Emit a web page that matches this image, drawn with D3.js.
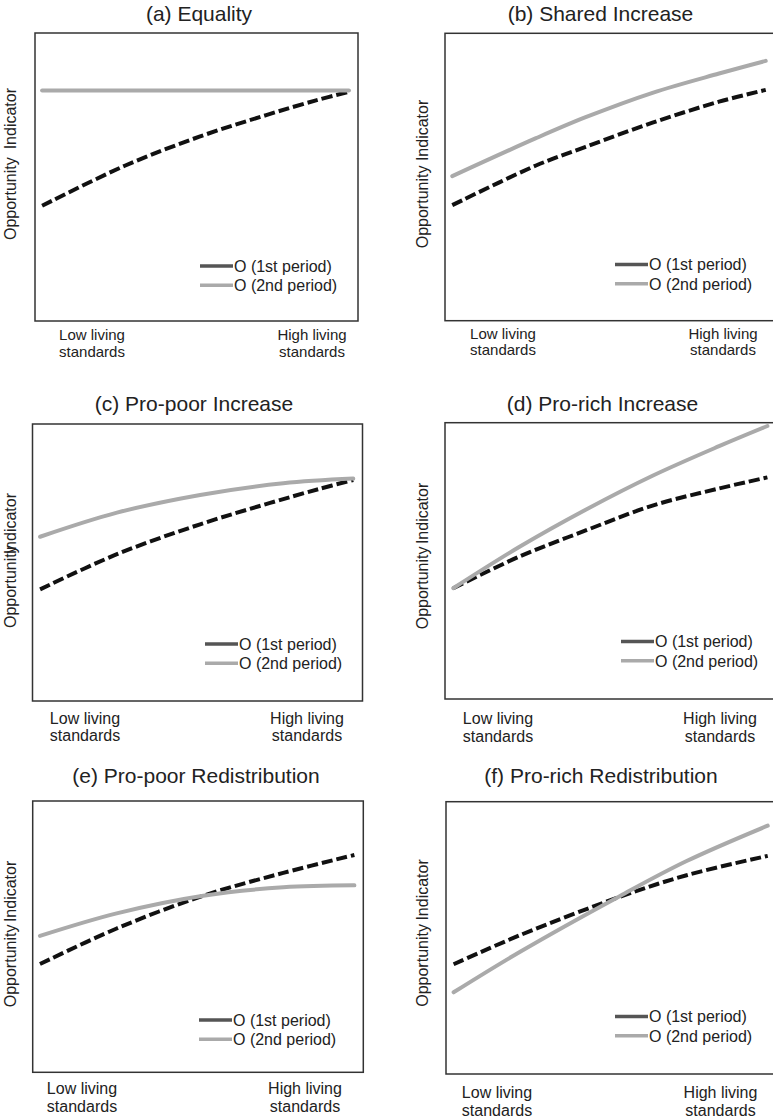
<!DOCTYPE html>
<html>
<head>
<meta charset="utf-8">
<script src="https://cdn.jsdelivr.net/npm/d3@7"></script>
<style>
  html, body { margin: 0; padding: 0; background: #fff; }
  svg { display: block; }
  text { font-family: "Liberation Sans", Arial, sans-serif; fill: #222; }
</style>
</head>
<body>
<svg id="chart" width="773" height="1120"></svg>
<script>
// ---------------- data ----------------
const panelTitles = ["(a) Equality", "(b) Shared Increase", "(c) Pro-poor Increase",
                     "(d) Pro-rich Increase", "(e) Pro-poor Redistribution", "(f) Pro-rich Redistribution"];
const yLabelParts = ["Opportunity", " Indicator"];
const xLabelLow = ["Low living", "standards"];
const xLabelHigh = ["High living", "standards"];
const legendLabels = ["O (1st period)", "O (2nd period)"];

// x: position along living standards (0-100), y: opportunity indicator (0-100)
const aX1 = [2.2, 27.8, 50.9, 71.6, 87, 97.2];
const aY1 = [40, 53.9, 64, 71.5, 76.6, 79.6];
const aX2 = [2.2, 97.2];
const aY2 = [80, 80];

const bX1 = [2.2, 27.5, 42.5, 62.7, 82.8, 96.9];
const bY1 = [40.2, 54, 60.5, 68.9, 76.2, 80.3];
const bX2 = [2.2, 27.5, 42.5, 62.7, 82.8, 96.9];
const bY2 = [50.3, 63.5, 70.8, 79.3, 86, 90.4];

const cX1 = [2.3, 25.6, 50.8, 72, 87, 97.2];
const cY1 = [40.3, 53, 63.8, 71.5, 76.6, 79.8];
const cX2 = [2.3, 25.6, 50.8, 76, 97.2];
const cY2 = [59.3, 68, 74.4, 78.6, 80.3];

const dX1 = [2.5, 22.4, 42.5, 62.7, 82.8, 97.4];
const dY1 = [40.1, 51.5, 61, 70, 76.2, 80.2];
const dX2 = [2.5, 22.4, 42.5, 62.7, 82.8, 97.4];
const dY2 = [40.1, 55, 68.5, 80.8, 91.5, 98.8];

const eX1 = [2.2, 25.4, 51.6, 75.8, 97.3];
const eY1 = [39.9, 53, 65.1, 73.5, 80.1];
const eX2 = [2.2, 25.4, 51.6, 75.8, 97.3];
const eY2 = [50.3, 58.6, 65.1, 68.2, 68.9];

const fX1 = [2.3, 22.4, 52.6, 72.7, 97.2];
const fY1 = [40.3, 51, 65.1, 73, 80.1];
const fX2 = [2.3, 22.4, 52.6, 72.7, 97.2];
const fY2 = [30, 44.9, 65.4, 78.2, 91.2];

const seriesX1 = [aX1, bX1, cX1, dX1, eX1, fX1];
const seriesY1 = [aY1, bY1, cY1, dY1, eY1, fY1];
const seriesX2 = [aX2, bX2, cX2, dX2, eX2, fX2];
const seriesY2 = [aY2, bY2, cY2, dY2, eY2, fY2];

// ---------------- layout (positions only) ----------------
const layout = [
  {fx:35,   fy:33,    fw:323, fh:288,   tx:199,   ty:21,    ly:164,   lx:16,  gap:3.5,  lowX:92,  highX:312,   xl1:340,  xl2:356.5,  xfs:15, legX:200, legY:266},
  {fx:445,  fy:33.3,  fw:331, fh:287.4, tx:600.5, ty:20.5,  ly:174,   lx:428, gap:0,    lowX:503, highX:723,   xl1:338.5,xl2:355,    xfs:15, legX:615, legY:264.5},
  {fx:32.5, fy:424,   fw:330, fh:277,   tx:194,   ty:410.7, ly:560.5, lx:16,  gap:-13.5,lowX:85,  highX:307,   xl1:724,  xl2:741,    xfs:16, legX:205, legY:644},
  {fx:445,  fy:422.7, fw:331, fh:276.3, tx:602.5, ty:410.7, ly:556,   lx:428, gap:-2,   lowX:498, highX:720,   xl1:724,  xl2:741.5,  xfs:16, legX:621, legY:641.5},
  {fx:32.7, fy:801,   fw:330.6, fh:271.3, tx:196, ty:783.3, ly:934,   lx:16,  gap:-2,   lowX:82,  highX:305,   xl1:1094, xl2:1111.5, xfs:16, legX:199, legY:1020},
  {fx:446,  fy:801.7, fw:331, fh:272.3, tx:601,   ty:783.3, ly:933,   lx:428, gap:-1,   lowX:497, highX:720.5, xl1:1098, xl2:1115.5, xfs:16, legX:615, legY:1016.5}
];

const svg = d3.select("#chart");

layout.forEach((L, i) => {
  const g = svg.append("g");
  const x = d3.scaleLinear().domain([0, 100]).range([L.fx, L.fx + L.fw]);
  const y = d3.scaleLinear().domain([0, 100]).range([L.fy + L.fh, L.fy]);

  // frame
  g.append("rect")
    .attr("x", x(0)).attr("y", y(100))
    .attr("width", x(100) - x(0)).attr("height", y(0) - y(100))
    .attr("fill", "none").attr("stroke", "#333").attr("stroke-width", 1.5);

  // title
  g.append("text")
    .attr("x", L.tx).attr("y", L.ty)
    .attr("text-anchor", "middle")
    .attr("font-size", 21)
    .text(panelTitles[i]);

  // y label
  const yl = g.append("text")
    .attr("transform", `translate(${L.lx},${L.ly}) rotate(-90)`)
    .attr("text-anchor", "middle")
    .attr("font-size", 16)
    .text(yLabelParts[0]);
  yl.append("tspan").attr("dx", L.gap).text(yLabelParts[1]);

  // x labels
  [[L.lowX, xLabelLow], [L.highX, xLabelHigh]].forEach(([cx, lines]) => {
    g.append("text").attr("x", cx).attr("y", L.xl1).attr("text-anchor", "middle")
      .attr("font-size", L.xfs).text(lines[0]);
    g.append("text").attr("x", cx).attr("y", L.xl2).attr("text-anchor", "middle")
      .attr("font-size", L.xfs).text(lines[1]);
  });

  // curves
  const line = d3.line().x(d => x(d[0])).y(d => y(d[1])).curve(d3.curveCatmullRom.alpha(0.5));
  const s1 = seriesX1[i].map((v, k) => [v, seriesY1[i][k]]);
  const s2 = seriesX2[i].map((v, k) => [v, seriesY2[i][k]]);

  g.append("path").attr("d", line(s1))
    .attr("fill", "none").attr("stroke", "#111").attr("stroke-width", 4)
    .attr("stroke-dasharray", "11,4");
  g.append("path").attr("d", line(s2))
    .attr("fill", "none").attr("stroke", "#aaa").attr("stroke-width", 4)
    .attr("stroke-linecap", "round");

  // legend
  const legColors = ["#555", "#aaa"];
  legendLabels.forEach((lab, k) => {
    const ly = L.legY + k * 19.2;
    g.append("line")
      .attr("x1", L.legX).attr("x2", L.legX + 33)
      .attr("y1", ly).attr("y2", ly)
      .attr("stroke", legColors[k]).attr("stroke-width", 3.5);
    g.append("text")
      .attr("x", L.legX + 34).attr("y", ly + 5.8)
      .attr("font-size", 16)
      .text(lab);
  });
});
</script>
</body>
</html>
